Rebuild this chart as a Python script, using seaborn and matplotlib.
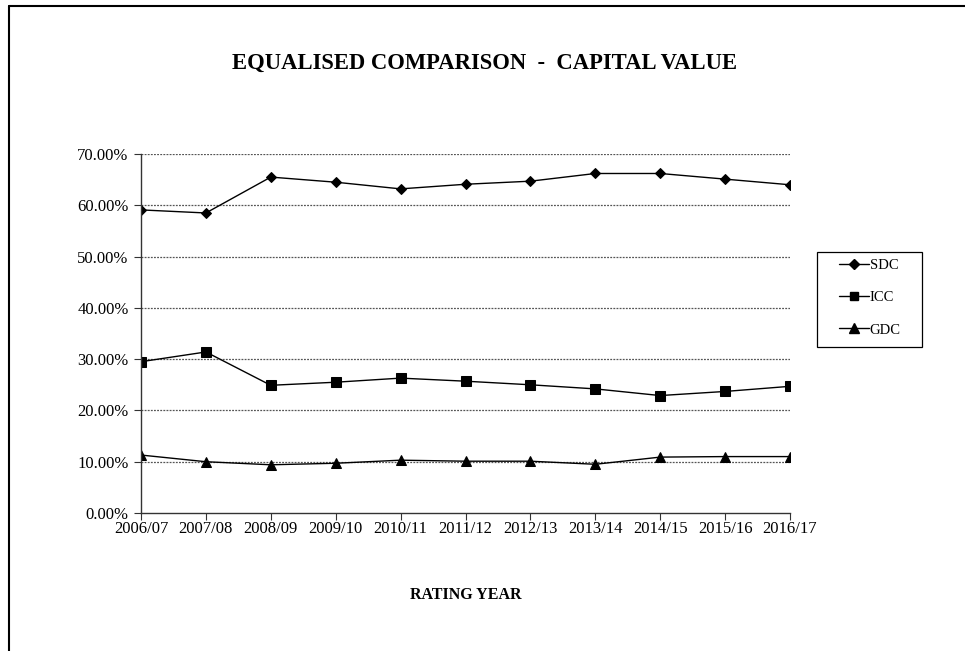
import matplotlib
matplotlib.use("Agg")
import matplotlib.pyplot as plt
from matplotlib.lines import Line2D
from matplotlib.patches import Rectangle
import seaborn as sns
import pandas as pd

years = ["2006/07", "2007/08", "2008/09", "2009/10", "2010/11", "2011/12",
         "2012/13", "2013/14", "2014/15", "2015/16", "2016/17"]
sdc = [59.1, 58.5, 65.5, 64.5, 63.2, 64.1, 64.7, 66.2, 66.2, 65.1, 64.0]
icc = [29.5, 31.4, 24.9, 25.5, 26.3, 25.7, 25.0, 24.2, 22.9, 23.7, 24.7]
gdc = [11.3, 10.0, 9.4, 9.7, 10.3, 10.1, 10.1, 9.5, 10.9, 11.0, 11.0]
series_names = ["SDC", "ICC", "GDC"]
y_ticks = [0, 10, 20, 30, 40, 50, 60, 70]

sns.set_theme(style="white")
plt.rcParams["font.family"] = ["Liberation Serif", "DejaVu Serif"]
plt.rcParams["text.color"] = "black"
plt.rcParams["axes.labelcolor"] = "black"
plt.rcParams["xtick.color"] = "black"
plt.rcParams["ytick.color"] = "black"

rows = []
for name, vals in zip(series_names, [sdc, icc, gdc]):
    for i, (yr, v) in enumerate(zip(years, vals)):
        rows.append({"idx": i, "year": yr, "value": v, "series": name})
df = pd.DataFrame(rows)

fig = plt.figure(figsize=(9.65, 6.51), dpi=100)
fig.patch.set_facecolor("white")
ax = fig.add_axes([141/965, 1-513/651, (790-141)/965, (513-154)/651])

for yv in y_ticks[1:]:
    ax.axhline(yv, color="#555555", linestyle=(0, (1.5, 1.0)), linewidth=0.9, zorder=0)

markers = {"SDC": "D", "ICC": "s", "GDC": "^"}
sizes = {"SDC": 5.5, "ICC": 6.5, "GDC": 7}
for name in series_names:
    sub = df[df["series"] == name]
    sns.lineplot(data=sub, x="idx", y="value", ax=ax, color="black",
                 marker=markers[name], markersize=sizes[name], linewidth=1.0,
                 markeredgecolor="black", markerfacecolor="black", label=name, legend=False)

ax.set_xlim(0, len(years)-1)
ax.set_ylim(0, 70)
ax.set_xticks(range(len(years)))
ax.set_xticklabels(years, fontsize=12)
ax.set_yticks(y_ticks)
ax.set_yticklabels([f"{v:.2f}%" for v in y_ticks], fontsize=12)
ax.set_xlabel("RATING YEAR", fontsize=11.5, fontweight="bold", labelpad=36)
ax.set_ylabel("")
for s in ["top", "right"]:
    ax.spines[s].set_visible(False)
for s in ["left", "bottom"]:
    ax.spines[s].set_color("#333333")
    ax.spines[s].set_linewidth(1.0)
ax.tick_params(axis="both", direction="out", length=5, width=0.8, color="#333333",
               bottom=True, left=True, labelcolor="black")
ax.tick_params(axis="x", pad=1)
ax.tick_params(axis="y", pad=4)

fig.text(485/965, 1-63/651, "EQUALISED COMPARISON  -  CAPITAL VALUE",
         ha="center", va="center", fontsize=16.3, fontweight="bold", color="black")

# legend frame
fig.add_artist(Rectangle((817/965, 1-347/651), (922-817)/965, (347-252)/651,
                         transform=fig.transFigure, fill=False, edgecolor="black", lw=0.9))
handles = [Line2D([0], [0], color="black", lw=1.0, marker=markers[n],
                  markersize=sizes[n]-0.5, markerfacecolor="black", markeredgecolor="black")
           for n in series_names]
leg = fig.legend(handles, series_names, loc="upper left",
                 bbox_to_anchor=(839/965, 1-259/651), frameon=False,
                 fontsize=10.5, handlelength=2.05, handletextpad=0.05,
                 labelspacing=1.3, borderpad=0, borderaxespad=0)

fig.add_artist(Line2D([9/965, 9/965], [0, 1-6/651], color="black", lw=1.5))
fig.add_artist(Line2D([9/965, 1], [1-6/651, 1-6/651], color="black", lw=1.5))

fig.savefig("out.png", dpi=100, facecolor="white")
